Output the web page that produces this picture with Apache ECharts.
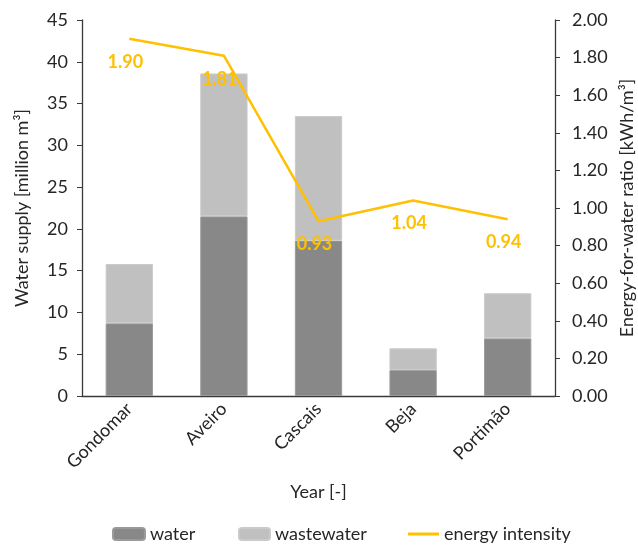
<!DOCTYPE html>
<html>
<head>
<meta charset="utf-8">
<script src="https://cdn.jsdelivr.net/npm/echarts@6/dist/echarts.min.js"></script>
<style>
  html, body { margin: 0; padding: 0; background: #fff; }
  #chart { width: 638px; height: 545px; }
</style>
</head>
<body>
<div id="chart"></div>
<script>
// Municipalities and their supply volumes (million m³) plus energy ratio (kWh/m³)
const categories = ['Gondomar', 'Aveiro', 'Cascais', 'Beja', 'Portimão'];
const waterValues = [8.7, 21.5, 18.6, 3.1, 6.9];
const wastewaterValues = [7.1, 17.1, 14.9, 2.6, 5.4];
const energyIntensity = [1.90, 1.81, 0.93, 1.04, 0.94];

const FONT = 'Lato';
const TEXT = '#262626';
const AXIS = '#3a3a3a';
const FS = 18;

const chart = echarts.init(document.getElementById('chart'), null, { renderer: 'canvas' });

const legendText = { fontFamily: FONT, fontSize: FS, color: TEXT };

chart.setOption({
  backgroundColor: '#ffffff',
  animation: false,
  grid: { left: 82, right: 83, top: 20, bottom: 149, containLabel: false, outerBoundsMode: 'none' },
  legend: [
    { data: ['water'], left: 107, top: 520, itemWidth: 32, itemHeight: 12, itemGap: 0,
      textStyle: legendText, selectedMode: false },
    { data: ['wastewater'], left: 233, top: 520, itemWidth: 31, itemHeight: 12, itemGap: 0,
      textStyle: legendText, selectedMode: false },
    { data: [{ name: 'energy intensity', icon: 'rect' }], left: 403, top: 520,
      itemWidth: 31, itemHeight: 3, itemGap: 0, textStyle: legendText, selectedMode: false }
  ],
  xAxis: {
    type: 'category',
    data: categories,
    name: 'Year [-]',
    nameLocation: 'middle',
    nameGap: 87,
    nameTextStyle: { fontFamily: FONT, fontSize: FS, color: TEXT },
    axisLine: { lineStyle: { color: AXIS, width: 1.3 } },
    axisTick: { show: false },
    axisLabel: { rotate: 45, margin: 10, fontFamily: FONT, fontSize: FS, color: TEXT }
  },
  yAxis: [
    {
      type: 'value',
      min: 0, max: 45, interval: 5,
      name: 'Water supply [million m³]',
      nameLocation: 'middle',
      nameGap: 51,
      nameTextStyle: { fontFamily: FONT, fontSize: FS, color: TEXT },
      axisLine: { show: true, lineStyle: { color: AXIS, width: 1.3 } },
      axisTick: { show: true, inside: false, length: 5, lineStyle: { color: AXIS } },
      axisLabel: { margin: 14, fontFamily: FONT, fontSize: FS, color: TEXT },
      splitLine: { show: false }
    },
    {
      type: 'value',
      min: 0, max: 2, interval: 0.2,
      name: 'Energy-for-water ratio [kWh/m³]',
      nameLocation: 'middle',
      nameGap: 62,
      nameRotate: 90,
      nameTextStyle: { fontFamily: FONT, fontSize: FS, color: TEXT },
      position: 'right',
      axisLine: { show: true, lineStyle: { color: AXIS, width: 1.3 } },
      axisTick: { show: true, inside: false, length: 5, lineStyle: { color: AXIS } },
      axisLabel: { margin: 17, fontFamily: FONT, fontSize: FS, color: TEXT,
                   formatter: v => v.toFixed(2) },
      splitLine: { show: false }
    }
  ],
  series: [
    {
      name: 'water',
      type: 'bar',
      stack: 'supply',
      barWidth: '50%',
      data: waterValues,
      itemStyle: { color: '#888888', borderColor: '#9a9a9a', borderWidth: 1 }
    },
    {
      name: 'wastewater',
      type: 'bar',
      stack: 'supply',
      barWidth: '50%',
      data: wastewaterValues,
      itemStyle: { color: '#c0c0c0', borderColor: '#cacaca', borderWidth: 1 }
    },
    {
      name: 'energy intensity',
      type: 'line',
      yAxisIndex: 1,
      data: energyIntensity,
      symbol: 'circle',
      symbolSize: 0,
      showSymbol: true,
      lineStyle: { color: '#FFC000', width: 2.5 },
      itemStyle: { color: '#FFC000' },
      label: {
        show: true,
        position: 'bottom',
        distance: 14,
        offset: [-4, 0],
        fontFamily: FONT,
        fontSize: FS,
        fontWeight: 'bold',
        color: '#FFC000',
        formatter: p => p.value.toFixed(2)
      },
      z: 5
    }
  ]
});
</script>
</body>
</html>
